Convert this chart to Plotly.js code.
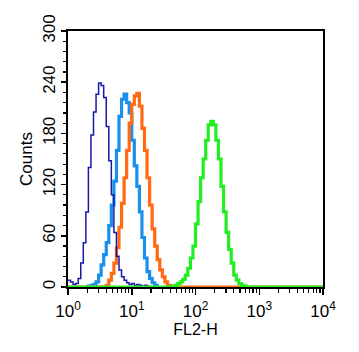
<!DOCTYPE html>
<html>
<head>
<meta charset="utf-8">
<script src="https://cdn.plot.ly/plotly-3.0.1.min.js"></script>
<style>html,body{margin:0;padding:0;background:#fff;}#chart{width:359px;height:352px;}</style>
</head>
<body>
<div id="chart"></div>
<script>
// Bin positions are in decades (log10 of FL2-H); counts per bin.
var navyLog = [0.00,0.04,0.08,0.12,0.16,0.20,0.24,0.28,0.32,0.36,0.40,0.44,0.48,0.52,0.56,0.60,0.64,0.68,0.72,0.76,0.80,0.84,0.88,0.92,0.96,1.00,1.04,1.08,1.12,1.16,1.20,1.24,1.28];
var navyCounts = [8,6,3,4,10,28,52,88,140,178,205,226,239,236,222,188,148,108,64,36,20,12,8,5,3,4,2,3,2,1,2,1,0];

var skyLog = [0.28,0.32,0.36,0.40,0.44,0.48,0.52,0.56,0.60,0.64,0.68,0.72,0.76,0.80,0.84,0.88,0.92,0.96,1.00,1.04,1.08,1.12,1.16,1.20,1.24,1.28,1.32,1.36,1.40];
var skyCounts = [0,1,2,3,6,14,26,38,52,72,96,124,160,200,220,226,216,204,172,142,118,88,58,34,18,10,5,2,0];

var orangeLog = [0.00,0.56,0.60,0.64,0.68,0.72,0.76,0.80,0.84,0.88,0.92,0.96,1.00,1.04,1.08,1.12,1.16,1.20,1.24,1.28,1.32,1.36,1.40,1.44,1.48,1.52,1.56,1.60,4.00];
var orangeCounts = [0,0,2,8,16,28,46,70,98,128,160,192,214,224,227,212,186,160,128,96,68,48,32,20,12,6,2,0,0];

var greenLog = [0.00,1.60,1.64,1.68,1.72,1.76,1.80,1.84,1.88,1.92,1.96,2.00,2.04,2.08,2.12,2.16,2.20,2.24,2.28,2.32,2.36,2.40,2.44,2.48,2.52,2.56,2.60,2.64,2.68,2.72,2.76,2.80,4.00];
var greenCounts = [0,0,1,2,4,6,9,14,22,34,48,74,100,128,150,172,190,194,190,172,150,118,88,64,44,28,14,8,4,2,1,0,0];

var xTickVals = [1,10,100,1000,10000];
var xTickText = ['10<sup>0</sup>','10<sup>1</sup>','10<sup>2</sup>','10<sup>3</sup>','10<sup>4</sup>'];
var yTickVals = [0,60,120,180,240,300];
var yTickText = ['0','60','120','180','240','300'];

function toLin(arr){ return arr.map(function(v){ return Math.pow(10, v); }); }

var xMinor = [];
for (var d = 0; d < 4; d++) { for (var m = 2; m <= 9; m++) { xMinor.push(m * Math.pow(10, d)); } }

function trace(lg, c, color, w){
  return {x: toLin(lg), y: c, type: 'scatter', mode: 'lines',
          line: {color: color, width: w, shape: 'hv'}, hoverinfo: 'skip', showlegend: false};
}

var data = [
  trace(skyLog, skyCounts, '#1890ee', 3.2),
  trace(orangeLog, orangeCounts, '#ff6a12', 3.2),
  trace(navyLog, navyCounts, '#1818a8', 1.5),
  trace(greenLog, greenCounts, '#22ee22', 3.2)
];

var font = {family: '"Liberation Sans", Arial, sans-serif', size: 16, color: '#000'};
var tfont = {family: '"Liberation Sans", Arial, sans-serif', size: 17, color: '#000'};

var layout = {
  width: 359, height: 352,
  margin: {l: 68, r: 36, t: 31, b: 65, pad: 0},
  paper_bgcolor: '#fff', plot_bgcolor: '#fff',
  font: font,
  showlegend: false,
  xaxis: {
    type: 'log', range: [0, 4],
    tickmode: 'array', tickvals: xTickVals, ticktext: xTickText,
    ticks: 'outside', ticklen: 6, tickwidth: 1.5, tickcolor: '#000',
    ticklabelstandoff: 2,
    minor: {tickmode: 'array', tickvals: xMinor, ticks: 'outside', ticklen: 3.5, tickwidth: 1.2, tickcolor: '#000', showgrid: false},
    showline: true, linecolor: '#000', linewidth: 2, mirror: true,
    showgrid: false, zeroline: false,
    tickfont: tfont,
    title: {text: 'FL2-H', font: font, standoff: 2}
  },
  yaxis: {
    range: [0, 300],
    tickmode: 'array', tickvals: yTickVals, ticktext: yTickText,
    tickangle: -90,
    ticks: 'outside', ticklen: 5, tickwidth: 1.5, tickcolor: '#000',
    ticklabelstandoff: -1,
    minor: {dtick: 12, ticks: 'outside', ticklen: 3, tickwidth: 1.2, tickcolor: '#000', showgrid: false},
    showline: true, linecolor: '#000', linewidth: 2, mirror: true,
    showgrid: false, zeroline: false,
    tickfont: tfont,
    title: {text: 'Counts', font: tfont, standoff: 3}
  }
};

Plotly.newPlot('chart', data, layout, {staticPlot: true, displayModeBar: false});
</script>
</body>
</html>
